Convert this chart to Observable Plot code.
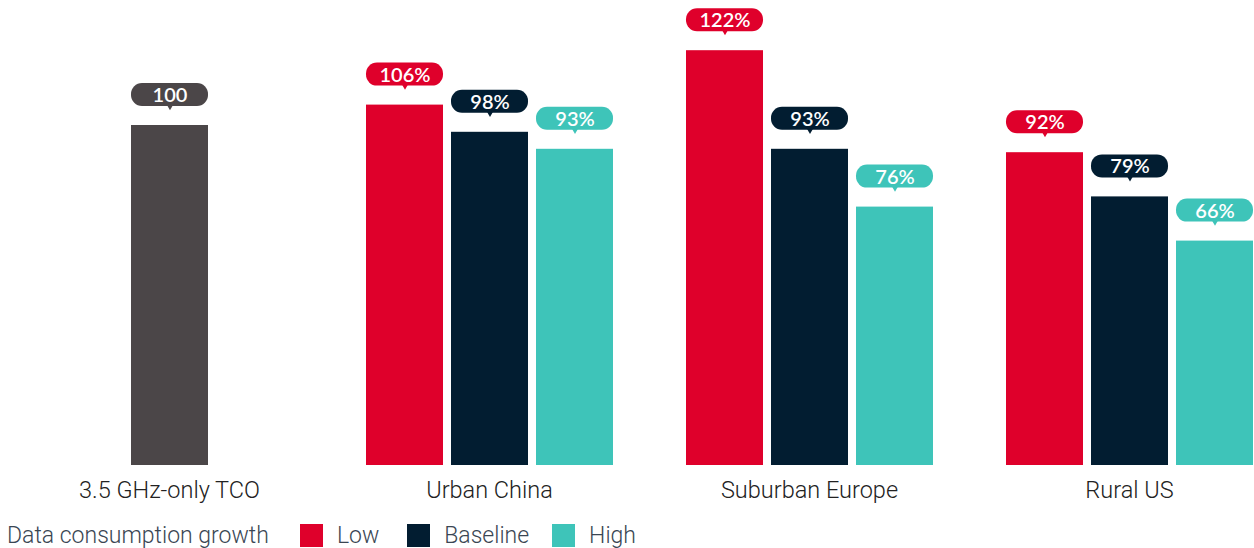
<!DOCTYPE html>
<html>
<head>
<meta charset="utf-8">
<script src="https://cdn.jsdelivr.net/npm/d3@7"></script>
<script src="https://cdn.jsdelivr.net/npm/@observablehq/plot@0.6"></script>
<style>
  html, body { margin: 0; padding: 0; background: #fff; }
  body { width: 1254px; height: 548px; position: relative; overflow: hidden; font-family: Roboto, "Noto Sans", sans-serif; }
  #legend { position: absolute; left: 7px; top: 524px; height: 23px; line-height: 23px; display: flex; align-items: center; font-size: 23px; color: #3a4653; font-weight: 300; white-space: nowrap; }
  #legend .sw { width: 23px; height: 23px; display: inline-block; margin-right: 14px; }
  #legend .item { display: flex; align-items: center; }
</style>
</head>
<body>
<div id="chart"></div>
<div id="legend"></div>
<script>
// ---- data ----
const groups = ["3.5 GHz-only TCO", "Urban China", "Suburban Europe", "Rural US"];
const scenarios = ["Low", "Baseline", "High"];
const legendTitle = "Data consumption growth";
const referenceValue = 100;
const urbanChina = [106, 98, 93];
const suburbanEurope = [122, 93, 76];
const ruralUS = [92, 79, 66];
const seriesColors = ["#df002b", "#021d31", "#3ec4b9"];
const referenceColor = "#4b4648";

const rows = [
  {group: groups[0], slot: "Baseline", key: "Reference", value: referenceValue, label: `${referenceValue}`}
];
[urbanChina, suburbanEurope, ruralUS].forEach((vals, gi) => {
  vals.forEach((v, i) => rows.push({group: groups[gi + 1], slot: scenarios[i], key: scenarios[i], value: v, label: `${v}%`}));
});

const chart = Plot.plot({
  width: 1254,
  height: 510,
  marginTop: 6,
  marginBottom: 45,
  marginLeft: 45,
  marginRight: 1,
  style: {background: "#fff"},
  fx: {domain: groups, paddingInner: 0.225, paddingOuter: 0, label: null},
  x: {domain: scenarios, paddingInner: 0.1, paddingOuter: 0, axis: null},
  y: {domain: [0, 135], axis: null},
  color: {domain: ["Reference", ...scenarios], range: [referenceColor, ...seriesColors]},
  marks: [
    Plot.barY(rows, {fx: "group", x: "slot", y: "value", fill: "key"}),
    Plot.barY(rows, {fx: "group", x: "slot", y1: "value", y2: "value", insetTop: -42, insetBottom: 19, rx: 11, fill: "key"}),
    Plot.dot(rows, {fx: "group", x: "slot", y: "value", dy: -20, symbol: "triangle", rotate: 180, r: 3, fill: "key", stroke: null}),
    Plot.text(rows, {fx: "group", x: "slot", y: "value", dy: -30, text: "label", fill: "#fff", fontSize: 20, fontWeight: 600, fontFamily: "Lato, sans-serif"}),
    Plot.axisFx({anchor: "bottom", tickSize: 0, tickPadding: 16, fontSize: 23.5, fill: "#222", label: null, fontFamily: "Roboto, sans-serif", fontWeight: 300})
  ]
});
document.getElementById("chart").appendChild(chart);

const legend = document.getElementById("legend");
const title = document.createElement("span");
title.textContent = legendTitle;
title.style.marginRight = "31px";
legend.appendChild(title);
const gaps = [28, 23, 0];
scenarios.forEach((s, i) => {
  const item = document.createElement("span");
  item.className = "item";
  item.style.marginRight = gaps[i] + "px";
  const sw = document.createElement("span");
  sw.className = "sw";
  sw.style.background = seriesColors[i];
  const t = document.createElement("span");
  t.textContent = s;
  item.appendChild(sw);
  item.appendChild(t);
  legend.appendChild(item);
});
</script>
</body>
</html>
